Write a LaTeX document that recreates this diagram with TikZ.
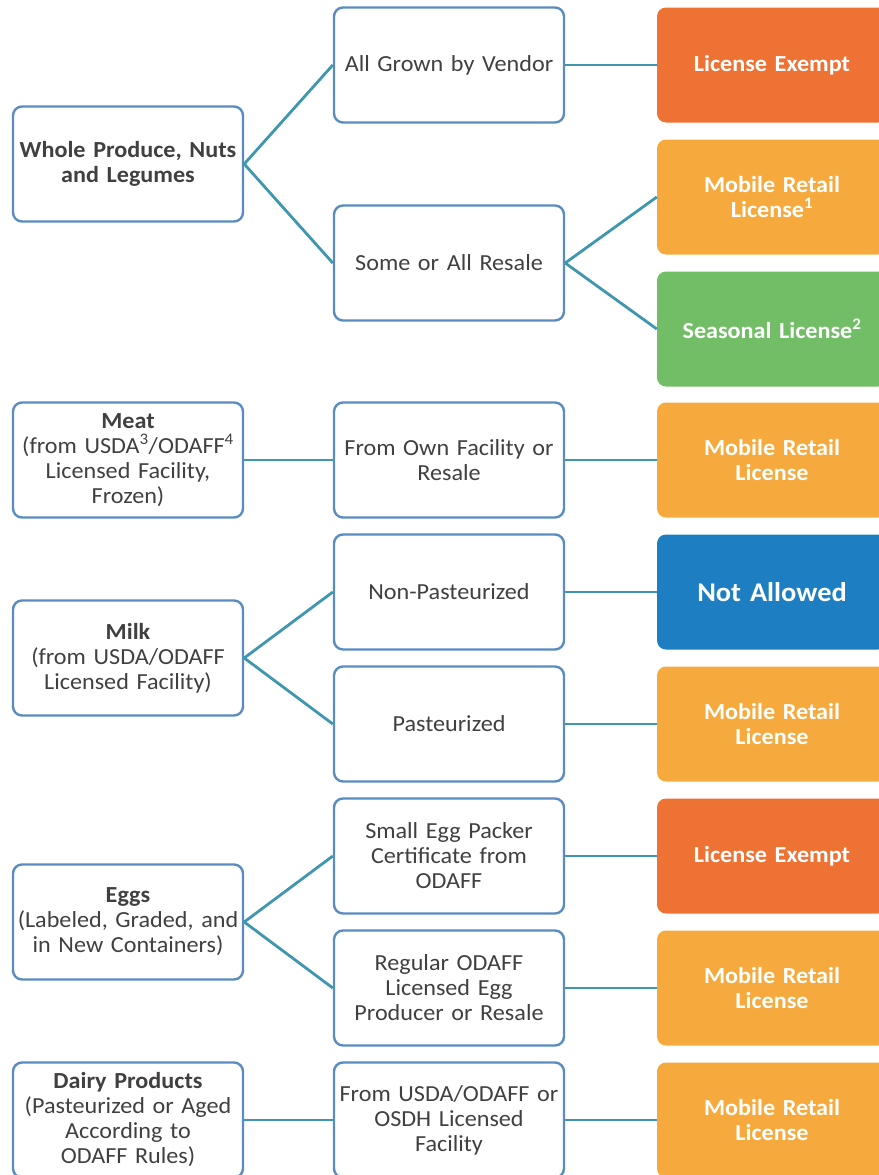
\documentclass[tikz,border=0pt]{standalone}
\usepackage{fontspec}
\setmainfont{Carlito}[FakeStretch=1.05]
\definecolor{boxline}{HTML}{5A8CC2}
\definecolor{link}{HTML}{3E97AE}
\definecolor{txt}{HTML}{404040}
\definecolor{exempt}{HTML}{EE7233}
\definecolor{mobile}{HTML}{F6AA3E}
\definecolor{seasonal}{HTML}{72BE66}
\definecolor{notallow}{HTML}{1D7EC2}
\begin{document}
\begin{tikzpicture}[x=1pt,y=-1pt,
		font=\fontsize{23}{25}\selectfont,
		cat/.style={draw=boxline,line width=2.4pt,fill=white,rounded corners=9pt,text=txt,
			minimum width=230pt,minimum height=115pt,text width=228pt,align=center,inner sep=1pt},
		lic/.style={rounded corners=9pt,text=white,font=\fontsize{23}{25}\selectfont\bfseries,
			minimum width=230pt,minimum height=115pt,text width=220pt,align=center,inner sep=1pt},
		link/.style={draw=link,line width=2.8pt}]
			\useasboundingbox (0,0) rectangle (878,1175);
			% products
			\node[cat] (produce) at (128,164) {\textbf{Whole Produce, Nuts}\\\textbf{and Legumes}};
			\node[cat] (meat) at (128,460) {\textbf{Meat}\\(from USDA\textsuperscript{3}/ODAFF\textsuperscript{4}\\Licensed Facility,\\Frozen)};
			\node[cat] (milk) at (128,658) {\textbf{Milk}\\(from USDA/ODAFF\\Licensed Facility)};
			\node[cat] (eggs) at (128,922) {\textbf{Eggs}\\(Labeled, Graded, and\\in New Containers)};
			\node[cat] (dairy) at (128,1120) {\textbf{Dairy Products}\\(Pasteurized or Aged\\According to\\ODAFF Rules)};
			% sources
			\node[cat] (grown) at (449,65) {All Grown by Vendor};
			\node[cat] (resale) at (449,263) {Some or All Resale};
			\node[cat] (ownfac) at (449,460) {From Own Facility or\\Resale};
			\node[cat] (nonpast) at (449,592) {Non-Pasteurized};
			\node[cat] (past) at (449,724) {Pasteurized};
			\node[cat] (smallegg) at (449,856) {Small Egg Packer\\Certificate from\\ODAFF};
			\node[cat] (regegg) at (449,988) {Regular ODAFF\\Licensed Egg\\Producer or Resale};
			\node[cat] (dairyfac) at (449,1120) {From USDA/ODAFF or\\OSDH Licensed\\Facility};
			% licenses
			\node[lic,fill=exempt] (exempt1) at (772,65) {License Exempt};
			\node[lic,fill=mobile] (mobile1) at (772,197) {Mobile Retail\\License\textsuperscript{1}};
			\node[lic,fill=seasonal] (seasonal) at (772,329) {Seasonal License\textsuperscript{2}};
			\node[lic,fill=mobile] (mobile2) at (772,460) {Mobile Retail\\License};
			\node[lic,fill=notallow,font=\fontsize{27}{29}\selectfont\bfseries] (notallowed) at (772,592) {Not Allowed};
			\node[lic,fill=mobile] (mobile3) at (772,724) {Mobile Retail\\License};
			\node[lic,fill=exempt] (exempt2) at (772,856) {License Exempt};
			\node[lic,fill=mobile] (mobile4) at (772,988) {Mobile Retail\\License};
			\node[lic,fill=mobile] (mobile5) at (772,1120) {Mobile Retail\\License};
			% connectors
			\draw[link] (produce.east) -- (grown.west);
			\draw[link] (produce.east) -- (resale.west);
			\draw[link] (meat) -- (ownfac);
			\draw[link] (milk.east) -- (nonpast.west);
			\draw[link] (milk.east) -- (past.west);
			\draw[link] (eggs.east) -- (smallegg.west);
			\draw[link] (eggs.east) -- (regegg.west);
			\draw[link] (dairy) -- (dairyfac);
			\draw[link] (grown) -- (exempt1);
			\draw[link] (resale.east) -- (mobile1.west);
			\draw[link] (resale.east) -- (seasonal.west);
			\draw[link] (ownfac) -- (mobile2);
			\draw[link] (nonpast) -- (notallowed);
			\draw[link] (past) -- (mobile3);
			\draw[link] (smallegg) -- (exempt2);
			\draw[link] (regegg) -- (mobile4);
			\draw[link] (dairyfac) -- (mobile5);
		\end{tikzpicture}
\end{document}
